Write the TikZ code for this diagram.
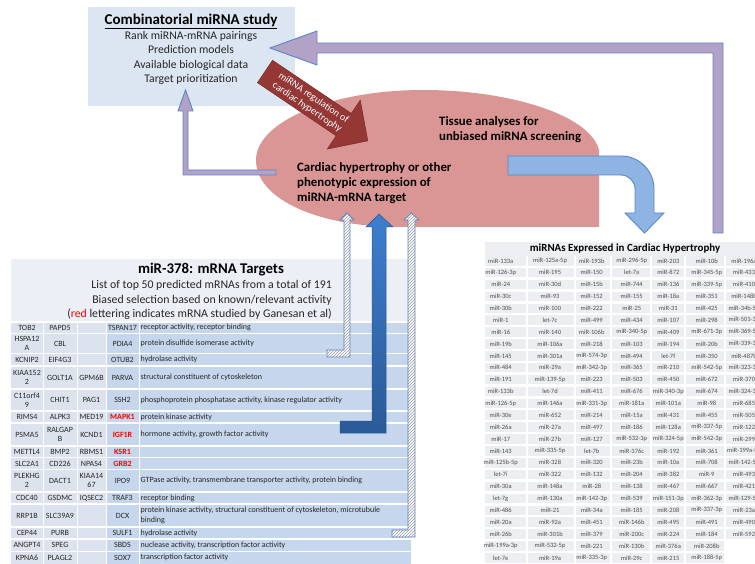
\documentclass[tikz,border=0pt]{standalone}
\usepackage{fontspec}
\setmainfont{Carlito}
\usetikzlibrary{patterns}
\definecolor{boxfill}{HTML}{DCE6F2}
\definecolor{purplefill}{HTML}{B3A2C7}
\definecolor{edgeblue}{HTML}{5B86C5}
\definecolor{redarrowfill}{HTML}{953735}
\definecolor{ellfill}{HTML}{DA9694}
\definecolor{curvefill}{HTML}{8EB4E3}
\definecolor{bigtop}{HTML}{3D7ECF}
\definecolor{bigbot}{HTML}{2B5A97}
\definecolor{thdr}{HTML}{ECEFF5}
\definecolor{tcellA}{HTML}{DDE3EE}
\definecolor{tcellB}{HTML}{C6D6EC}
\definecolor{mhdr}{HTML}{EDEFF2}
\definecolor{mcellc}{HTML}{EDEEF2}
\definecolor{mtext}{HTML}{4D4D4D}
\definecolor{ttext}{HTML}{262626}
\definecolor{redtxt}{HTML}{FF0000}
\newcommand{\redg}[1]{\textcolor{redtxt}{\bfseries #1}}
\newcommand{\lrow}[7]{%
  \node[lc] (t#1a) at (27,#2) {#3};
  \node[lc] (t#1b) at (60,#2) {#4};
  \node[lc] (t#1c) at (91.5,#2) {#5};
  \node[lc] (t#1d) at (122.5,#2) {#6};
  \node[lcf] (t#1e) at (140.5,#2) {#7};
}
\begin{document}
\begin{tikzpicture}[x=1pt,y=-1pt,
  purplearrow/.style={fill=purplefill, draw=edgeblue, line width=0.9pt},
  redarrow/.style={fill=redarrowfill, draw=redarrowfill!80!black, line width=0.5pt},
  curvearrow/.style={fill=curvefill, draw=edgeblue, line width=0.9pt},
  hatcharrow/.style={draw=edgeblue, line width=0.8pt, preaction={fill=white}, pattern=north east lines, pattern color=gray!80},
  bigarrow/.style={top color=bigtop, bottom color=bigbot, draw=bigtop!70!black, line width=0.5pt},
  lc/.style={inner sep=0pt, align=center, text=ttext, font=\fontsize{8}{8.8}\selectfont},
  lcf/.style={inner sep=0pt, anchor=west, align=left, text=ttext, font=\fontsize{8}{9.2}\selectfont},
  mtxt/.style={inner sep=0pt, text=mtext, font=\fontsize{6.5}{7}\selectfont},
  boldtxt/.style={inner sep=0pt, align=left, text=black, font=\fontsize{12.8}{15}\selectfont\bfseries}
]
\useasboundingbox (0,0) rectangle (755,564);
\fill[white] (0,0) rectangle (755,564);

% top box
\fill[boxfill] (88,7) rectangle (295,106);

% ellipse-like shape
\fill[ellfill] (599,227) -- (599,150) .. controls (590,115) and (510,90) .. (423,90)
  .. controls (330,90) and (256,122) .. (256,160)
  .. controls (256,200) and (320,227) .. (400,227) -- cycle;

% left table
\fill[thdr] (11,259) rectangle (411,321.5);
\fill[tcellA] (11,322) rectangle (106,564);
\fill[tcellB] (106,322) rectangle (411,564);
\foreach \yy in {322,333.5,353.5,366,389,411,423,446,457.5,469.5,492,504,527,539,551.5}
  \draw[white, line width=1.2pt] (11,\yy) -- (411,\yy);
\foreach \xx in {43,77,106,139}
  \draw[white, line width=1pt] (\xx,322) -- (\xx,564);

\node[inner sep=0pt, font=\fontsize{14.8}{16}\selectfont\bfseries] (ttitle) at (211,270) {miR-378: mRNA Targets};
\node[inner sep=0pt, anchor=east, align=right, font=\fontsize{11.8}{14.5}\selectfont, text=ttext] (tsub) at (332,300)
  {List of top 50 predicted mRNAs from a total of 191\\Biased selection based on known/relevant activity\\(\textcolor{redtxt}{red} lettering indicates mRNA studied by Ganesan et al)};

\lrow{1}{327.75}{TOB2}{PAPD5}{}{TSPAN17}{receptor activity, receptor binding}
\lrow{2}{343.5}{HSPA12\\A}{CBL}{}{PDIA4}{protein disulfide isomerase activity}
\lrow{3}{359.75}{KCNIP2}{EIF4G3}{}{OTUB2}{hydrolase activity}
\lrow{4}{377.5}{KIAA152\\2}{GOLT1A}{GPM6B}{PARVA}{structural constituent of cytoskeleton}
\lrow{5}{400}{C11orf4\\9}{CHIT1}{PAG1}{SSH2}{phosphoprotein phosphatase activity, kinase regulator activity}
\lrow{6}{417}{RIMS4}{ALPK3}{MED19}{\redg{MAPK1}}{protein kinase activity}
\lrow{7}{434.5}{PSMA5}{RALGAP\\B}{KCND1}{\redg{IGF1R}}{hormone activity, growth factor activity}
\lrow{8}{451.75}{METTL4}{BMP2}{RBMS1}{\redg{KSR1}}{}
\lrow{9}{463.5}{SLC2A1}{CD226}{NPAS4}{\redg{GRB2}}{}
\lrow{10}{480.75}{PLEKHG\\2}{DACT1}{KIAA14\\67}{IPO9}{GTPase activity, transmembrane transporter activity, protein binding}
\lrow{11}{498}{CDC40}{GSDMC}{IQSEC2}{TRAF3}{receptor binding}
\lrow{12}{515.5}{RRP1B}{SLC39A9}{}{DCX}{protein kinase activity, structural constituent of cytoskeleton, microtubule\\binding}
\lrow{13}{533}{CEP44}{PURB}{}{SULF1}{hydrolase activity}
\lrow{14}{545.25}{ANGPT4}{SPEG}{}{SBDS}{nuclease activity, transcription factor activity}
\lrow{15}{557.75}{KPNA6}{PLAGL2}{}{SOX7}{transcription factor activity}

% right table
\fill[mhdr] (485,242) rectangle (770,256);
\node[inner sep=0pt, font=\fontsize{10.9}{12}\selectfont\bfseries] (mtitle) at (625,249) {miRNAs Expressed in Cardiac Hypertrophy};
\foreach \rowlist [count=\i] in {
 {miR-133a,miR-125a-5p,miR-193b,miR-296-5p,miR-203,miR-10b,miR-196a},
 {miR-126-3p,miR-195,miR-150,let-7a,miR-872,miR-345-5p,miR-433},
 {miR-24,miR-30d,miR-15b,miR-744,miR-136,miR-339-5p,miR-410},
 {miR-30c,miR-93,miR-152,miR-155,miR-18a,miR-351,miR-148b},
 {miR-30b,miR-100,miR-222,miR-25,miR-31,miR-425,miR-34b-5p},
 {miR-1,let-7c,miR-499,miR-434,miR-107,miR-298,miR-501-3p},
 {miR-16,miR-140,miR-106b,miR-340-5p,miR-409,miR-671-3p,miR-369-5p},
 {miR-19b,miR-106a,miR-218,miR-103,miR-194,miR-20b,miR-339-3p},
 {miR-145,miR-301a,miR-574-3p,miR-494,let-7f,miR-350,miR-487b},
 {miR-484,miR-29a,miR-342-3p,miR-365,miR-210,miR-542-5p,miR-323-3p},
 {miR-191,miR-139-5p,miR-223,miR-503,miR-450,miR-672,miR-370},
 {miR-133b,let-7d,miR-411,miR-676,miR-340-3p,miR-674,miR-324-3p},
 {miR-126-5p,miR-146a,miR-331-3p,miR-181a,miR-101a,miR-98,miR-685},
 {miR-30e,miR-652,miR-214,miR-15a,miR-431,miR-455,miR-505},
 {miR-26a,miR-27a,miR-497,miR-186,miR-128a,miR-337-5p,miR-122},
 {miR-17,miR-27b,miR-127,miR-532-3p,miR-324-5p,miR-542-3p,miR-299},
 {miR-143,miR-335-5p,let-7b,miR-376c,miR-192,miR-361,miR-199a-5p},
 {miR-125b-5p,miR-328,miR-320,miR-23b,miR-10a,miR-708,miR-142-5p},
 {let-7i,miR-322,miR-132,miR-204,miR-382,miR-9,miR-493},
 {miR-30a,miR-148a,miR-28,miR-138,miR-467,miR-667,miR-421},
 {let-7g,miR-130a,miR-142-3p,miR-539,miR-151-3p,miR-362-3p,miR-129-5p},
 {miR-486,miR-21,miR-34a,miR-185,miR-208,miR-337-3p,miR-23a},
 {miR-20a,miR-92a,miR-451,miR-146b,miR-495,miR-491,miR-490},
 {miR-26b,miR-301b,miR-379,miR-200c,miR-224,miR-184,miR-592},
 {miR-199a-3p,miR-532-5p,miR-221,miR-130b,miR-376a,miR-208b},
 {let-7e,miR-19a,miR-335-3p,miR-29c,miR-215,miR-188-5p}}{
  \pgfmathsetmacro{\yc}{260.8+(\i-1)*11.88}
  \foreach \cell [count=\j] in \rowlist {
    \pgfmathsetmacro{\xl}{{485,528,576,612,652,686,726}[\j-1]}
    \pgfmathsetmacro{\xr}{{526,574,610,650,684,724,770}[\j-1]}
    \pgfmathsetmacro{\xc}{{500.7,550,591.7,631.7,668.3,706.7,744}[\j-1]}
    \fill[mcellc] (\xl,\yc-4.75) rectangle (\xr,\yc+4.75);
    \node[mtxt] (m-\i-\j) at (\xc,\yc) {\cell};
  }
}

% arrows
\filldraw[purplearrow] (713,233) -- (723,233) -- (723,43) -- (317,43) -- (317,31) -- (270,48) -- (317,65) -- (317,53) -- (713,53) -- cycle;
\filldraw[purplearrow] (276,170) -- (188,170) -- (188,111) -- (193,111) -- (185.5,90) -- (178,111) -- (183,111) -- (183,175) -- (276,175) -- cycle;
\filldraw[curvearrow] (508,156) -- (621,156) .. controls (639.2,156) and (654,170.8) .. (654,189) -- (654,213) -- (664,213) -- (644.5,233) -- (625,213) -- (635,213) -- (635,189) .. controls (635,181.3) and (628.7,175) .. (621,175) -- (508,175) -- cycle;
\path[hatcharrow] (327,350) -- (344,350) -- (344,220) -- (340,220) -- (347,213) -- (354,220) -- (350,220) -- (350,357) -- (327,357) -- cycle;
\path[hatcharrow] (392,530) -- (408,530) -- (408,220) -- (404,220) -- (411.5,213) -- (419,220) -- (415,220) -- (415,537) -- (392,537) -- cycle;
\path[bigarrow] (340,421) -- (372,421) -- (372,227) -- (366,227) -- (379,214) -- (393,227) -- (386,227) -- (386,433) -- (340,433) -- cycle;

\begin{scope}[shift={(265,71.5)}, rotate=-34]
  \filldraw[redarrow] (0,-13.5) -- (95,-13.5) -- (95,-29.5) -- (124,0) -- (95,29.5) -- (95,13.5) -- (0,13.5) -- cycle;
  \node[rotate=-34, inner sep=0pt, align=center, text=white, font=\fontsize{10}{11.5}\selectfont] (redlbl) at (55,0.5) {miRNA regulation of\\cardiac hypertrophy};
\end{scope}

% texts
\node[inner sep=0pt, font=\fontsize{15}{17}\selectfont\bfseries] (cmtitle) at (191,21) {\underline{Combinatorial miRNA study}};
\node[inner sep=0pt, align=center, font=\fontsize{11.7}{14.4}\selectfont, text=ttext] (cmlines) at (191,58)
  {Rank miRNA-mRNA pairings\\Prediction models\\Available biological data\\Target prioritization};
\node[boldtxt, anchor=west] (pheno) at (297,183) {Cardiac hypertrophy or other\\phenotypic expression of\\miRNA-mRNA target};
\node[boldtxt, anchor=west, font=\fontsize{12.8}{14.5}\selectfont\bfseries] (tissue) at (439,129.5) {Tissue analyses for\\unbiased miRNA screening};
\end{tikzpicture}
\end{document}
